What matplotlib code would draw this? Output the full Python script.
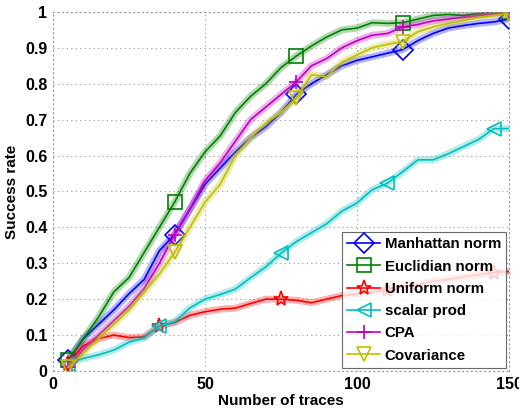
import numpy as np
import matplotlib
matplotlib.use('Agg')
import matplotlib.pyplot as plt

plt.rcParams['font.family'] = ['Liberation Sans', 'DejaVu Sans']
plt.rcParams['font.weight'] = 'bold'

traces = np.arange(5, 155, 5)

manhattan = [0.03, 0.09, 0.13, 0.17, 0.215, 0.255, 0.335, 0.38, 0.45, 0.52,
             0.565, 0.61, 0.65, 0.68, 0.72, 0.77, 0.80, 0.825, 0.85, 0.865,
             0.875, 0.885, 0.895, 0.92, 0.94, 0.955, 0.962, 0.968, 0.972, 0.98]
euclidian = [0.03, 0.09, 0.15, 0.22, 0.26, 0.33, 0.40, 0.47, 0.55, 0.61,
             0.655, 0.72, 0.765, 0.80, 0.845, 0.877, 0.905, 0.93, 0.95, 0.955,
             0.97, 0.968, 0.97, 0.98, 0.99, 0.993, 0.99, 0.995, 1.0, 1.0]
uniform = [0.02, 0.07, 0.09, 0.10, 0.093, 0.095, 0.125, 0.135, 0.155, 0.165,
           0.172, 0.175, 0.188, 0.20, 0.20, 0.197, 0.19, 0.20, 0.21, 0.215,
           0.22, 0.225, 0.235, 0.24, 0.25, 0.255, 0.262, 0.268, 0.274, 0.277]
scalar = [0.02, 0.035, 0.045, 0.058, 0.08, 0.092, 0.125, 0.137, 0.175, 0.20,
          0.213, 0.228, 0.26, 0.29, 0.328, 0.36, 0.385, 0.41, 0.445, 0.468,
          0.505, 0.523, 0.555, 0.588, 0.588, 0.605, 0.625, 0.645, 0.675, 0.675]
cpa = [0.01, 0.06, 0.10, 0.14, 0.18, 0.23, 0.30, 0.38, 0.45, 0.53,
       0.58, 0.64, 0.70, 0.735, 0.77, 0.805, 0.85, 0.87, 0.90, 0.92,
       0.935, 0.94, 0.958, 0.965, 0.975, 0.98, 0.985, 0.99, 0.995, 1.0]
covariance = [0.01, 0.05, 0.09, 0.13, 0.17, 0.22, 0.27, 0.33, 0.40, 0.47,
              0.52, 0.60, 0.65, 0.69, 0.72, 0.76, 0.825, 0.82, 0.86, 0.88,
              0.90, 0.91, 0.917, 0.945, 0.958, 0.968, 0.976, 0.985, 0.99, 0.995]

series = [
    ('Manhattan norm', manhattan, (0, 0, 1), 'D', [0, 7, 15, 22, 29]),
    ('Euclidian norm', euclidian, (0, 0.5, 0), 's', [0, 7, 15, 22, 29]),
    ('Uniform norm', uniform, (1, 0, 0), '*', [0, 6, 14, 21, 28]),
    ('scalar prod', scalar, (0, 0.75, 0.75), '<', [0, 6, 14, 21, 28]),
    ('CPA', cpa, (0.75, 0, 0.75), '+', [0, 7, 15, 22, 29]),
    ('Covariance', covariance, (0.75, 0.75, 0), 'v', [0, 7, 15, 22, 29]),
]

fig = plt.figure(figsize=(5.19, 4.19), dpi=100)
ax = fig.add_axes([0.102, 0.1146, 0.879, 0.857])

for name, vals, col, mk, marks in series:
    ax.plot(traces, vals, color=col, lw=5, alpha=0.3, solid_capstyle='butt')
    ms = 10 if mk != '*' else 11
    ax.plot(traces, vals, color=col, lw=1.2, marker=mk, markevery=marks,
            markersize=ms, markerfacecolor='none', markeredgecolor=col,
            markeredgewidth=1.2, label=name)

ax.set_xlim(0, 150)
ax.set_ylim(0, 1)
ax.set_xticks([0, 50, 100, 150])
ax.set_yticks(np.arange(0, 1.01, 0.1))
ax.set_yticklabels(['0', '0.1', '0.2', '0.3', '0.4', '0.5', '0.6', '0.7', '0.8', '0.9', '1'])
ax.grid(True, color='#999999', linestyle=(0, (1, 3)), linewidth=0.8)
for s in ax.spines.values():
    s.set_color('#999999')
    s.set_linestyle((0, (1, 3)))
    s.set_linewidth(0.8)
ax.tick_params(length=0, labelsize=11.5, pad=4)
for lab in ax.get_xticklabels() + ax.get_yticklabels():
    lab.set_fontweight('bold')

ax.set_xlabel('Number of traces', fontsize=11, fontweight='bold', labelpad=2)
ax.set_ylabel('Success rate', fontsize=11, fontweight='bold', labelpad=4)

leg = ax.legend(loc='lower right', fontsize=10.8, frameon=True, fancybox=False,
                handlelength=2.2, borderpad=0.35, labelspacing=0.55,
                handletextpad=0.3, borderaxespad=0.2)
leg.get_frame().set_edgecolor('#444444')
leg.get_frame().set_linewidth(0.8)
for t in leg.get_texts():
    t.set_fontweight('bold')

fig.savefig('out.png', dpi=100)
